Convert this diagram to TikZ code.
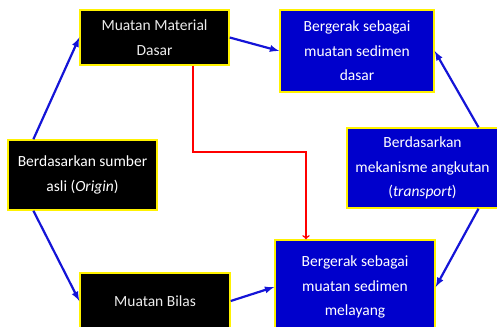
\documentclass[tikz,border=0pt]{standalone}
\usepackage{fontspec}
\setmainfont{Carlito}
\usetikzlibrary{arrows}
\definecolor{bleu}{RGB}{0,0,204}
\definecolor{trait}{RGB}{20,20,215}

\begin{document}
\begin{tikzpicture}[x=1pt,y=-1pt,
  boite/.style={draw=yellow,line width=1.4pt,text=white,align=center,inner sep=0pt,
    font=\fontsize{15.5}{24.5}\selectfont},
  noir/.style={boite,fill=black,text=gray!15},
  bleue/.style={boite,fill=bleu},
  fleche/.style={->,>=latex,draw=trait,line width=2.2pt},
  rouge/.style={->,>=to,draw=red,line width=1.6pt}]
\useasboundingbox (0,0) rectangle (497,326);

%les boites noires
\node[noir,minimum width=149pt,minimum height=55pt] (mat) at (154.5,37.5) {Muatan Material\\Dasar};
\node[noir,minimum width=149pt,minimum height=70pt,text=white] (origin) at (82.5,175) {Berdasarkan sumber\\asli (\textit{Origin})};
\node[noir,minimum width=150pt,minimum height=56pt] (bilas) at (155,301) {Muatan Bilas};

%les boites bleues
\node[bleue,minimum width=154pt,minimum height=82pt] (dasar) at (357,51) {Bergerak sebagai\\muatan sedimen\\dasar};
\node[bleue,minimum width=151pt,minimum height=80pt] (transport) at (422.5,168) {Berdasarkan\\mekanisme angkutan\\(\textit{transport})};
\node[bleue,minimum width=160pt,minimum height=94pt] (melayang) at (355,287) {Bergerak sebagai\\muatan sedimen\\melayang};

%les fleches
\draw[fleche] (origin.144) -- (mat.west);
\draw[fleche] (origin.216) -- (bilas.west);
\draw[fleche] (mat.east) -- (dasar.west);
\draw[fleche] (bilas.east) -- (melayang.west);
\draw[fleche] (transport.36) -- (dasar.east);
\draw[fleche] (transport.-36) -- (melayang.east);

\draw[rouge] ([xshift=38.5pt]mat.south) -- ++(0,86) -| ([xshift=-49pt]melayang.north);
\end{tikzpicture}
\end{document}
